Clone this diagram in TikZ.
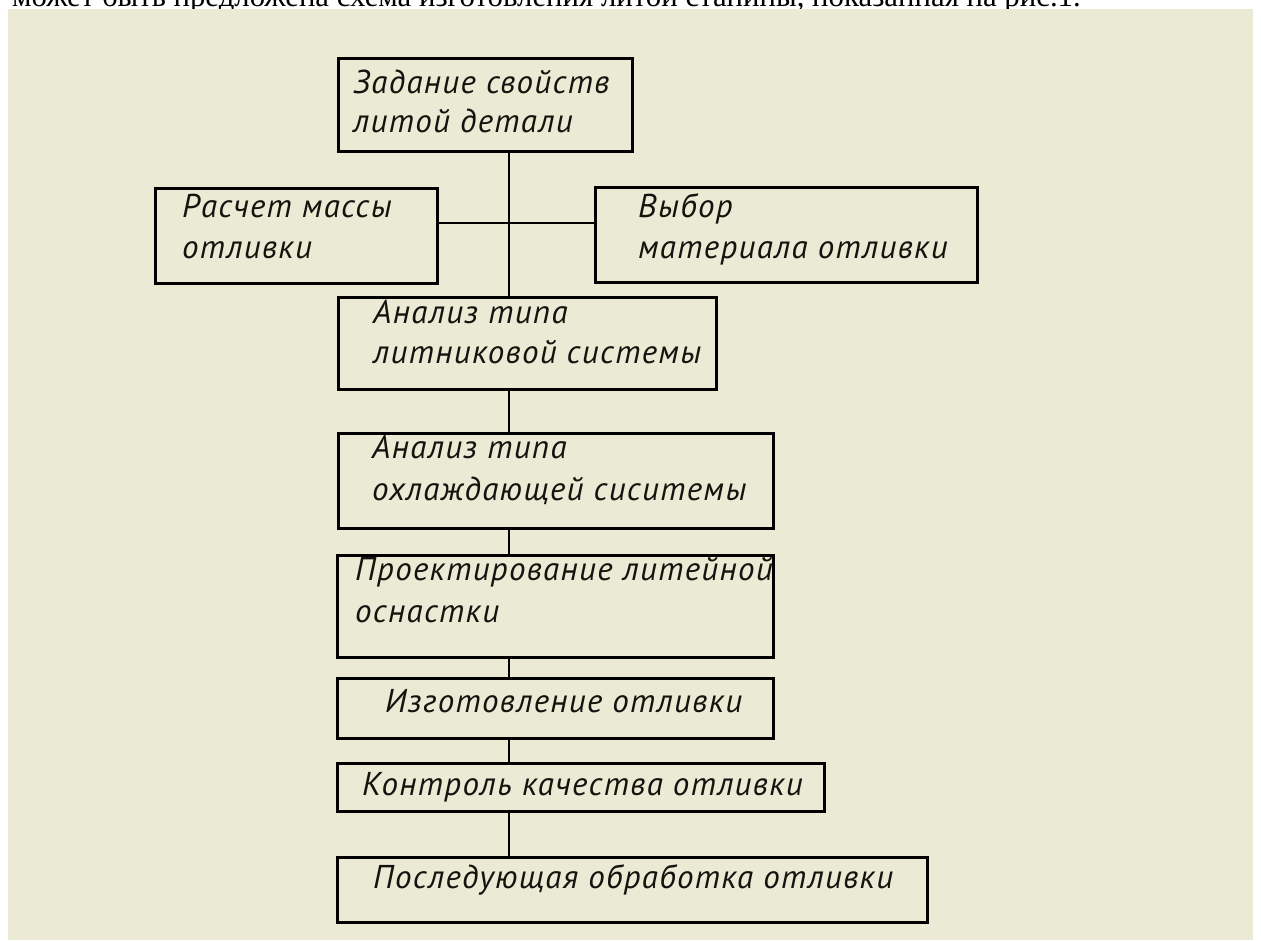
\documentclass[tikz,border=0pt]{standalone}
\usepackage{fontspec}
\newfontfamily\gostfont[LetterSpace=4]{PT Sans}
\newfontfamily\bodyfont{Liberation Serif}
\definecolor{bg}{RGB}{235,234,213}
\definecolor{ink}{RGB}{20,20,15}

\begin{document}
\begin{tikzpicture}[x=1pt,y=-1pt,
		box/.style={rectangle,draw=black,line width=3pt,fill=bg,inner sep=0pt},
		txt/.style={anchor=base west,inner sep=0pt,text=ink,font=\gostfont\itshape\fontsize{33}{38}\selectfont},
		link/.style={line width=2.8pt}]
	\useasboundingbox (0,0) rectangle (1261,940);
	\fill[white] (0,0) rectangle (1261,940);
	\begin{scope}
		\clip (0,0) rectangle (1261,940);
		\node[anchor=base west,inner sep=0pt,font=\bodyfont\fontsize{30.8}{34}\selectfont] (cap) at (12,6) {может быть предложена схема изготовления литой станины, показанная на рис.1.};
	\end{scope}
	\fill[bg] (8,9) rectangle (1253,940);
	\coordinate (sp) at (509,223);
	\node[box,minimum width=294pt,minimum height=93pt] (zad) at (485,104.5) {};
	\node[box,minimum width=282pt,minimum height=95pt] (ras) at (296,235.5) {};
	\node[box,minimum width=382pt,minimum height=95pt] (vyb) at (786,234.5) {};
	\node[box,minimum width=378pt,minimum height=92pt] (lit) at (527,343) {};
	\node[box,minimum width=435pt,minimum height=95pt] (okh) at (555.5,480.5) {};
	\node[box,minimum width=436pt,minimum height=102pt] (pro) at (555,606) {};
	\node[box,minimum width=436pt,minimum height=60pt] (izg) at (555,708) {};
	\node[box,minimum width=487pt,minimum height=48pt] (kon) at (580.5,787) {};
	\node[box,minimum width=590pt,minimum height=65pt] (pos) at (632,889.5) {};
	\node[txt] (zad1) at (353,93) {Задание свойств};
	\node[txt] (zad2) at (353,132) {литой детали};
	\node[txt] (ras1) at (182,217) {Расчет массы};
	\node[txt] (ras2) at (182,258) {отливки};
	\node[txt] (vyb1) at (638,217) {Выбор};
	\node[txt] (vyb2) at (638,258) {материала отливки};
	\node[txt] (lit1) at (373,323) {Анализ типа};
	\node[txt] (lit2) at (373,363) {литниковой системы};
	\node[txt] (okh1) at (372,458) {Анализ типа};
	\node[txt] (okh2) at (372,500) {охлаждающей сиситемы};
	\node[txt] (pro1) at (355,580) {Проектирование литейной};
	\node[txt] (pro2) at (355,622) {оснастки};
	\node[txt] (izg1) at (385,712) {Изготовление отливки};
	\node[txt] (kon1) at (362,795) {Контроль качества отливки};
	\node[txt] (pos1) at (373,888) {Последующая обработка отливки};
	\draw[link] (zad.south -| sp) -- (lit.north -| sp);
	\draw[link] (ras.east |- sp) -- (vyb.west |- sp);
	\draw[link] (lit.south -| sp) -- (okh.north -| sp);
	\draw[link] (okh.south -| sp) -- (pro.north -| sp);
	\draw[link] (pro.south -| sp) -- (izg.north -| sp);
	\draw[link] (izg.south -| sp) -- (kon.north -| sp);
	\draw[link] (kon.south -| sp) -- (pos.north -| sp);
\end{tikzpicture}
\end{document}
